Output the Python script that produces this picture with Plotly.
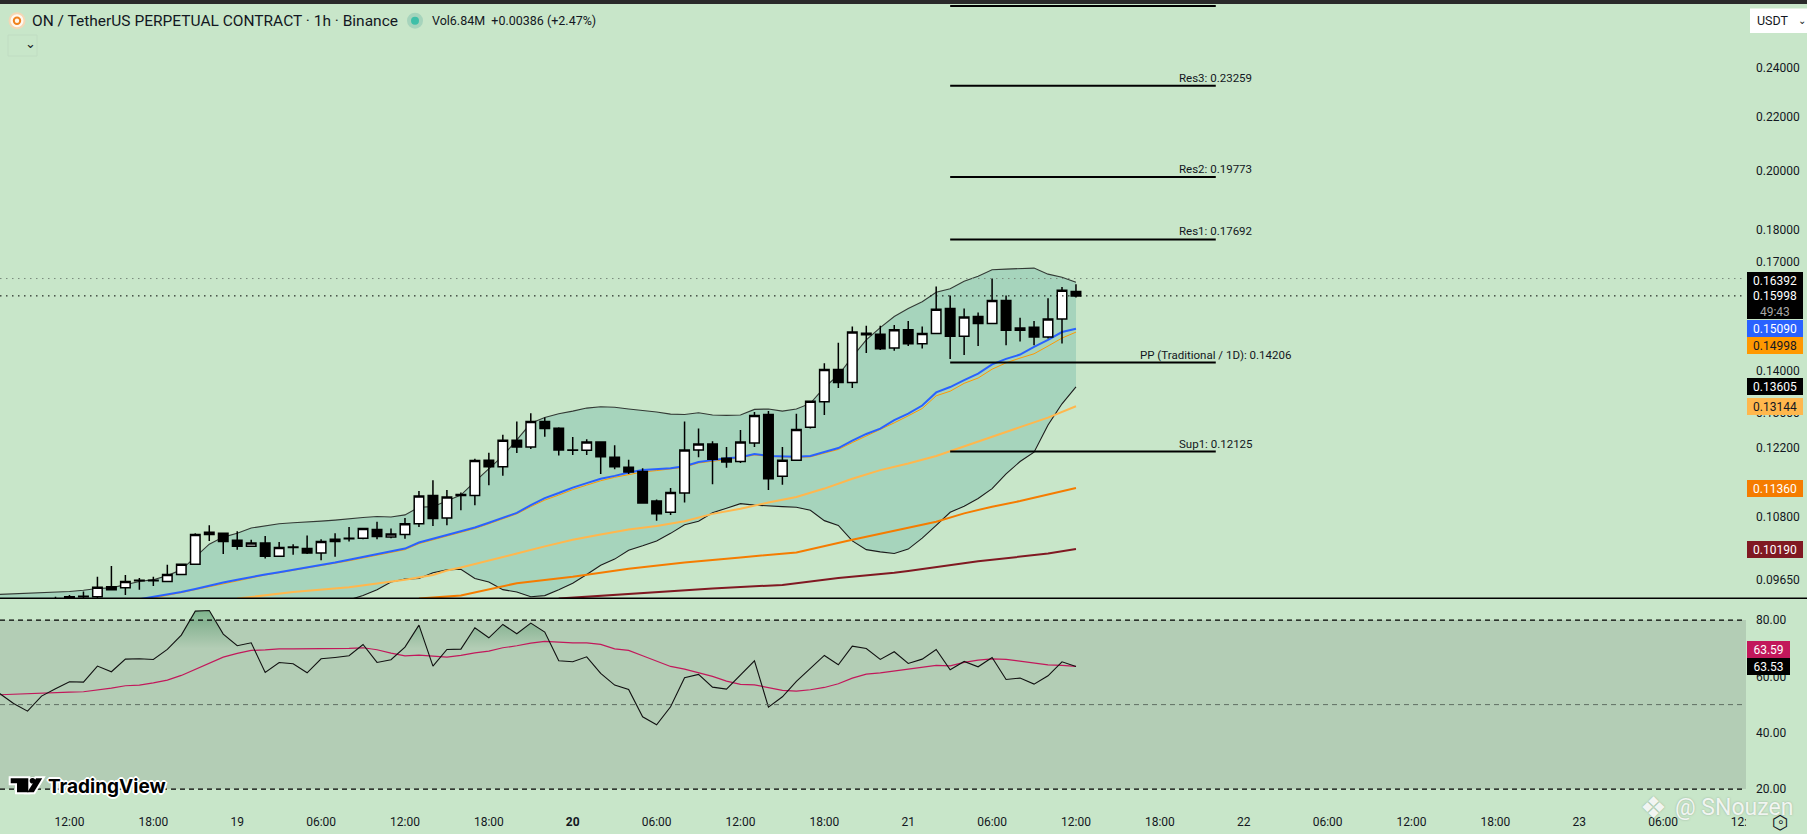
#!/usr/bin/env python3
# -*- coding: utf-8 -*-

import numpy as np
import pandas as pd
import plotly.graph_objs as go

WIDTH, HEIGHT = 1807, 834
PLOT_W, PLOT_H = 1746, 806
FONT = "Roboto"
INK = "#131722"
BG = "#c8e6c9"

# candles, one per hour, the last one is 21st 12:00
opens = [.0918, .0916, .0922, .0925, .0930, .0936, .0936, .0953, .0951, .0963, .0963, .0962, .0974, .0992, .1046, .1048,
         .1035, .1024, .1030, .1006, .1022, .1020, .1012, .1033, .1038, .1039, .1055, .1041, .1046, .1066, .1121, .1077,
         .1121, .1121, .1194, .1180, .1237, .1222, .1279, .1264, .1216, .1215, .1233, .1200, .1179, .1170, .1110, .1088,
         .1126, .1216, .1229, .1198, .1191, .1231, .1295, .1160, .1194, .1266, .1325, .1403, .1371, .1497, .1494, .1458,
         .1506, .1469, .1496, .1564, .1489, .1542, .1523, .1587, .1505, .1513, .1487, .1535, .1612]
highs = [.0921, .0924, .0928, .0936, .0939, .0945, .0970, .0989, .0973, .0968, .0970, .0991, .0992, .1048, .1063, .1048,
         .1052, .1036, .1043, .1032, .1028, .1044, .1037, .1048, .1060, .1058, .1070, .1057, .1077, .1130, .1152, .1132,
         .1127, .1197, .1210, .1249, .1279, .1298, .1288, .1266, .1244, .1239, .1235, .1226, .1195, .1177, .1113, .1136,
         .1279, .1263, .1235, .1222, .1260, .1301, .1303, .1222, .1297, .1326, .1419, .1472, .1515, .1517, .1517, .1519,
         .1530, .1515, .1627, .1601, .1564, .1553, .1650, .1601, .1539, .1530, .1593, .1625, .1633]
lows = [.0912, .0914, .0918, .0922, .0928, .0932, .0933, .0948, .0939, .0948, .0954, .0961, .0973, .0992, .1034, .1010,
        .1018, .1023, .1002, .1005, .1009, .1010, .0999, .1005, .1033, .1037, .1037, .1039, .1038, .1060, .1062, .1063,
        .1092, .1102, .1142, .1161, .1209, .1218, .1245, .1204, .1205, .1205, .1165, .1175, .1165, .1106, .1072, .1083,
        .1107, .1200, .1144, .1178, .1188, .1222, .1132, .1143, .1194, .1263, .1294, .1358, .1358, .1445, .1453, .1451,
        .1463, .1457, .1496, .1430, .1440, .1463, .1523, .1465, .1475, .1465, .1483, .1470, .1595]
closes = [.0916, .0922, .0925, .0930, .0936, .0937, .0952, .0948, .0962, .0964, .0964, .0974, .0992, .1046, .1050, .1033,
          .1024, .1030, .1006, .1022, .1023, .1012, .1033, .1037, .1039, .1057, .1042, .1047, .1066, .1120, .1076, .1118,
          .1123, .1193, .1180, .1237, .1222, .1279, .1263, .1216, .1215, .1233, .1201, .1180, .1169, .1106, .1085, .1127,
          .1216, .1229, .1196, .1190, .1233, .1293, .1155, .1194, .1261, .1326, .1403, .1371, .1500, .1493, .1456, .1506,
          .1469, .1496, .1562, .1489, .1541, .1523, .1587, .1505, .1511, .1487, .1535, .1616, .15998]

# bollinger bands, 78 hourly values
bb_upper = [.0940, .0941, .0941, .0942, .0943, .0945, .0947, .0950, .0951, .0956, .0962, .0965, .0972, .0982, .1005, .1028,
            .1041, .1048, .1058, .1062, .1066, .1068, .1069, .1071, .1073, .1076, .1078, .1080, .1079, .1083, .1098, .1099,
            .1110, .1122, .1149, .1175, .1203, .1238, .1275, .1288, .1297, .1303, .1310, .1313, .1312, .1308, .1305, .1301,
            .1296, .1295, .1299, .1294, .1293, .1294, .1307, .1308, .1303, .1308, .1321, .1359, .1389, .1435, .1479, .1512,
            .1542, .1564, .1583, .1610, .1620, .1642, .1657, .1676, .1678, .1680, .1681, .1663, .1654, .16392]
bb_lower = [.0900, .0901, .0902, .0903, .0904, .0905, .0905, .0906, .0907, .0908, .0909, .0910, .0911, .0912, .0913, .0914,
            .0915, .0917, .0918, .0919, .0920, .0922, .0924, .0926, .0928, .0931, .0938, .0948, .0961, .0966, .0967, .0977,
            .0982, .0983, .0967, .0961, .0948, .0944, .0936, .0938, .0948, .0959, .0974, .0990, .1001, .1017, .1025, .1034,
            .1048, .1064, .1071, .1087, .1096, .1105, .1102, .1100, .1099, .1098, .1092, .1072, .1063, .1034, .1018, .1014,
            .1011, .1019, .1039, .1063, .1088, .1100, .1115, .1135, .1165, .1191, .1211, .1271, .1320, .13605]

# moving averages, hourly up to the last bar (older ones are under the pane)
ma_blue = [.0932, .0936, .0939, .0944, .0949, .0955, .0960, .0965, .0970, .0974, .0978, .0982, .0986, .0991, .0995, .1000,
           .1005, .1010, .1014, .1020, .1031, .1038, .1045, .1053, .1059, .1068, .1077, .1087, .1102, .1116, .1126, .1137,
           .1146, .1155, .1161, .1168, .1173, .1175, .1177, .1181, .1190, .1194, .1198, .1200, .1207, .1203, .1202, .1201,
           .1203, .1212, .1220, .1236, .1251, .1263, .1282, .1297, .1316, .1347, .1360, .1377, .1393, .1416, .1430, .1441,
           .1461, .1479, .1500, .15090]
ma_orange = [.0934, .0938, .0943, .0948, .0953, .0958, .0963, .0968, .0973, .0977, .0981, .0985, .0989, .0994, .0998, .1003,
             .1008, .1013, .1018, .1029, .1036, .1043, .1051, .1057, .1066, .1075, .1085, .1099, .1112, .1122, .1133, .1142,
             .1151, .1158, .1164, .1169, .1172, .1175, .1179, .1188, .1192, .1196, .1199, .1205, .1202, .1201, .1200, .1201,
             .1209, .1217, .1232, .1246, .1260, .1276, .1292, .1309, .1339, .1350, .1369, .1382, .1404, .1420, .1432, .1443,
             .1463, .1484, .14998]

# slow averages, read every few hours: hours before the last bar, then price
ma_light_hours = [60, 56, 52, 48, 46, 45, 44, 42, 40, 38, 36, 34, 32, 30, 28, 26, 24, 22, 20, 18, 16, 14, 12, 10, 8, 6, 4, 2, 0]
ma_light = [.0933, .0944, .0952, .0965, .0973, .0981, .0986, .0999, .1011, .1024, .1036, .1046, .1055, .1062, .1071, .1085,
            .1095, .1107, .1118, .1135, .1155, .1173, .1187, .1203, .1224, .1245, .1267, .1288, .13144]
ma_dark_hours = [47, 44, 40, 36, 32, 28, 24, 20, 16, 14, 13, 12, 10, 8, 6, 4, 2, 0]
ma_dark = [.0933, .0938, .0959, .0970, .0984, .0995, .1004, .1013, .1036, .1047, .1053, .1059, .1070, .1086, .1099, .1110,
           .1123, .11360]
ma_red_hours = [37, 31, 26, 21, 17, 13, 12, 7, 2, 0]
ma_red = [.0933, .0942, .0950, .0956, .0968, .0977, .0980, .0997, .1011, .10190]

# pivots
pivot_names = ["Res3", "Res2", "Res1", "PP (Traditional / 1D)", "Sup1"]
pivot_levels = [.23259, .19773, .17692, .14206, .12125]
pivot_top = .2681
pivot_from, pivot_to = 9, -10
high_line = .1650

# rsi, 78 hourly values
rsi = [53.96, 50.41, 47.69, 53.02, 55.62, 58.11, 57.99, 63.67, 61.66, 66.15, 66.27, 66.04, 69.59, 74.67, 83.20, 83.43,
       75.03, 70.89, 71.95, 61.42, 64.97, 64.50, 61.30, 66.27, 66.75, 67.34, 71.36, 64.97, 65.92, 70.41, 78.22, 63.67,
       69.59, 69.70, 77.28, 73.73, 78.46, 75.15, 78.93, 75.74, 65.56, 65.21, 66.98, 61.07, 56.92, 55.38, 45.68, 42.84,
       49.23, 59.53, 60.71, 56.21, 55.50, 60.47, 65.56, 49.11, 52.78, 58.22, 62.84, 67.46, 64.14, 70.77, 69.94, 66.04,
       68.76, 64.62, 66.15, 69.59, 62.37, 65.33, 63.43, 66.75, 58.93, 59.41, 57.28, 60.24, 65.21, 63.53]
rsi_ma = [53.49, 53.73, 53.96, 54.20, 54.32, 54.44, 54.56, 55.15, 55.86, 56.69, 56.92, 57.75, 58.70, 60.36, 62.49, 64.85,
          66.86, 68.17, 69.23, 69.47, 69.82, 69.82, 69.82, 69.82, 69.82, 69.94, 70.18, 69.47, 68.28, 67.34, 67.57, 67.10,
          66.86, 67.46, 68.40, 68.99, 70.18, 70.89, 71.83, 72.43, 72.07, 71.95, 71.95, 71.36, 69.82, 69.23, 67.34, 65.44,
          63.55, 62.60, 61.42, 60.00, 58.34, 57.16, 57.04, 55.98, 55.03, 54.79, 55.27, 56.09, 57.40, 59.41, 60.83, 61.30,
          61.89, 62.60, 63.31, 63.91, 63.79, 64.97, 65.80, 66.27, 66.04, 65.44, 64.97, 64.14, 63.91, 63.59]

# axes
price_ticks = [.24, .22, .20, .18, .17, .16, .15, .14, .13, .122, .108, .0965]
rsi_ticks = [80, 60, 40, 20]
time_labels = ["12:00", "18:00", "19", "06:00", "12:00", "18:00", "<b>20</b>", "06:00", "12:00", "18:00", "21", "06:00",
               "12:00", "18:00", "22", "06:00", "12:00", "18:00", "23", "06:00", "12:00"]

last_bar = pd.Timestamp("2025-06-21 12:00")
hour = pd.Timedelta(hours=1)
x_left = last_bar - 76.97 * hour
x_right = last_bar + 47.93 * hour
price_range = [np.log10(.0934), np.log10(.2710)]
rsi_range = [14.0, 87.5]


def hours_ago(hours):
    return [last_bar - h * hour for h in hours]


def last_n(n):
    return hours_ago(range(n - 1, -1, -1))


def px(x):
    return x / PLOT_W


def py(y):
    return (PLOT_H - y) / PLOT_H


def rect(x0, y0, x1, y1, fill, line=None):
    return dict(type="rect", xref="paper", yref="paper", x0=px(x0), x1=px(x1), y0=py(y0), y1=py(y1),
                fillcolor=fill, line=dict(color=line or fill, width=1 if line else 0), layer="above")


def circle(cx, cy, r, fill, line=None, lw=0):
    return dict(type="circle", xref="paper", yref="paper", x0=px(cx - r), x1=px(cx + r), y0=py(cy - r), y1=py(cy + r),
                fillcolor=fill, line=dict(color=line or fill, width=lw), layer="above")


def poly(points, fill, line=None, lw=0):
    path = "M " + " L ".join(f"{px(a):.5f} {py(b):.5f}" for a, b in points) + " Z"
    return dict(type="path", xref="paper", yref="paper", path=path, fillcolor=fill,
                line=dict(color=line or fill, width=lw), layer="above")


def text(x, y, s, size, color=INK, anchor="left", family=FONT, **kw):
    return dict(xref="paper", yref="paper", x=px(x), y=py(y), text=s, showarrow=False, xanchor=anchor, yanchor="middle",
                font=dict(family=family, size=size, color=color, **kw.pop("font", {})), **kw)


def badge(value, label, fill, color="#ffffff", w=56, h=17, shift=0, yref="y", log=True):
    return dict(xref="paper", yref=yref, x=px(1747), y=np.log10(value) if log else value, text=label, showarrow=False,
                xanchor="left", yanchor="middle", yshift=shift, width=w, height=h, bgcolor=fill, borderpad=0,
                borderwidth=0, align="center", font=dict(family=FONT, size=12, color=color))


def rsi_overbought(values, level=70):
    # upper edge of the overbought shading, with the crossings of the level added
    xs, ys = [], []
    times = last_n(len(values))
    for i, v in enumerate(values):
        if i > 0 and (values[i - 1] - level) * (v - level) < 0:
            f = (level - values[i - 1]) / (v - values[i - 1])
            xs.append(times[i - 1] + f * hour)
            ys.append(level)
        xs.append(times[i])
        ys.append(max(v, level))
    return xs, ys


fig = go.Figure()

# band first so that everything else sits on it
fig.add_trace(go.Scatter(x=last_n(len(bb_lower)), y=bb_lower, mode="lines", xaxis="x2", yaxis="y",
                         line=dict(color="#1c1c1c", width=1.1)))
fig.add_trace(go.Scatter(x=last_n(len(bb_upper)), y=bb_upper, mode="lines", xaxis="x2", yaxis="y", fill="tonexty",
                         fillcolor="#a6d4bc", line=dict(color="#333a35", width=1.1)))
fig.add_trace(go.Scatter(x=hours_ago(ma_red_hours), y=ma_red, mode="lines", xaxis="x2", yaxis="y",
                         line=dict(color="#801922", width=2)))
fig.add_trace(go.Scatter(x=hours_ago(ma_dark_hours), y=ma_dark, mode="lines", xaxis="x2", yaxis="y",
                         line=dict(color="#f57c00", width=2)))
fig.add_trace(go.Scatter(x=hours_ago(ma_light_hours), y=ma_light, mode="lines", xaxis="x2", yaxis="y",
                         line=dict(color="#ffb74d", width=2)))
fig.add_trace(go.Scatter(x=last_n(len(ma_orange)), y=ma_orange, mode="lines", xaxis="x2", yaxis="y",
                         line=dict(color="#ff9800", width=1)))
fig.add_trace(go.Scatter(x=last_n(len(ma_blue)), y=ma_blue, mode="lines", xaxis="x2", yaxis="y",
                         line=dict(color="#2962ff", width=2)))

# candles on an overlaying axis, box traces would otherwise end up under the scatter fill
fig.add_trace(go.Candlestick(x=last_n(len(opens)), open=opens, high=highs, low=lows, close=closes, xaxis="x2", yaxis="y3",
                             increasing=dict(line=dict(color="#000000", width=1.5), fillcolor="#ffffff"),
                             decreasing=dict(line=dict(color="#000000", width=1.5), fillcolor="#000000"),
                             whiskerwidth=0))

for level in pivot_levels + [pivot_top]:
    fig.add_trace(go.Scatter(x=hours_ago([pivot_from, pivot_to]), y=[level, level], mode="lines", xaxis="x2", yaxis="y3",
                             line=dict(color="#000000", width=2)))

fig.add_trace(go.Scatter(x=[x_left, x_right], y=[closes[-1], closes[-1]], mode="lines", xaxis="x2", yaxis="y3",
                         line=dict(color="#000000", width=1, dash="1.5px,4.5px")))
fig.add_trace(go.Scatter(x=[x_left, x_right], y=[high_line, high_line], mode="lines", xaxis="x2", yaxis="y3",
                         line=dict(color="#78897b", width=1, dash="1.5px,4.5px")))

# rsi pane
over_x, over_y = rsi_overbought(rsi)
fig.add_trace(go.Scatter(x=over_x, y=[70] * len(over_x), mode="lines", xaxis="x", yaxis="y2", line=dict(width=0)))
fig.add_trace(go.Scatter(x=over_x, y=over_y, mode="lines", xaxis="x", yaxis="y2", line=dict(width=0), fill="tonexty",
                         fillgradient=dict(type="vertical", start=70, stop=84,
                                           colorscale=[[0, "rgba(70,140,95,0)"], [1, "rgba(70,140,95,0.6)"]])))
fig.add_trace(go.Scatter(x=last_n(len(rsi_ma)), y=rsi_ma, mode="lines", xaxis="x", yaxis="y2",
                         line=dict(color="#c2185b", width=1.2)))
fig.add_trace(go.Scatter(x=last_n(len(rsi)), y=rsi, mode="lines", xaxis="x", yaxis="y2",
                         line=dict(color="#111111", width=1.1)))

logo_t = [(10.7, 778.3), (28.3, 778.3), (28.3, 792.3), (17, 792.3), (17, 783.3), (10.7, 783.3)]
logo_slash = [(36, 778.3), (42.2, 778.3), (33.8, 792.3), (27.3, 792.3)]

shapes = [
    dict(type="rect", xref="paper", yref="y2", x0=0, x1=1, y0=20, y1=80, fillcolor="#b3cdb5", line=dict(width=0), layer="below"),
    dict(type="line", xref="paper", yref="y2", x0=0, x1=1, y0=80, y1=80, line=dict(color="#000000", width=1.2, dash="5px,4px")),
    dict(type="line", xref="paper", yref="y2", x0=0, x1=1, y0=50, y1=50, line=dict(color="#5f6f62", width=1, dash="5px,4px")),
    dict(type="line", xref="paper", yref="y2", x0=0, x1=1, y0=20, y1=20, line=dict(color="#000000", width=1.2, dash="5px,4px")),
    # window bar, pane separator, time axis corner
    rect(0, 0, WIDTH, 4, "#2a2a2a"),
    dict(type="line", xref="paper", yref="paper", x0=0, x1=px(WIDTH), y0=py(598.3), y1=py(598.3),
         line=dict(color="#000000", width=1.5), layer="above"),
    rect(PLOT_W, 806, WIDTH, HEIGHT, BG),
    # legend icons
    circle(17, 20.7, 8.5, "#f5d7b5"),
    circle(17, 20.7, 6.5, "#fff8f0"),
    circle(17, 20.7, 3.2, "#fff8f0", "#f0821e", 2),
    circle(415, 20.7, 8, "#a6d4bc"),
    circle(415, 20.7, 4, "#3fbfa8"),
    rect(8, 35, 37, 56, "rgba(0,0,0,0)", "#c0dcc2"),
    # USDT button
    rect(1750, 8.5, WIDTH, 33, "#ffffff"),
    # TradingView mark, white edge first
    poly(logo_t, "#ffffff", "#ffffff", 4),
    poly(logo_slash, "#ffffff", "#ffffff", 4),
    circle(32.5, 780.7, 3.8, "#ffffff"),
    poly(logo_t, "#000000"),
    poly(logo_slash, "#000000"),
    circle(32.5, 780.7, 2.8, "#000000"),
]

halo = "1px 1px 0 #fff, -1px -1px 0 #fff, 1px -1px 0 #fff, -1px 1px 0 #fff, 2px 0 0 #fff, -2px 0 0 #fff, 0 2px 0 #fff, 0 -2px 0 #fff"
annotations = [
    text(30, 20.7, "ON / TetherUS PERPETUAL CONTRACT · 1h · Binance", 15.5),
    text(430, 20.7, "Vol6.84M  +0.00386 (+2.47%)", 12.5),
    text(22.5, 44, "⌄", 13, family="DejaVu Sans"),
    text(1755, 20, "USDT", 12.5),
    text(1802, 20, "⌄", 10, anchor="center", family="DejaVu Sans"),
    text(46, 786.5, "<b>TradingView</b>", 19, color="#000000", family="Inter", font=dict(shadow=halo)),
    text(1653, 808, "❖", 30, color="rgba(255,255,255,0.9)", anchor="center", family="DejaVu Sans",
         font=dict(shadow="0 0 2px #8fa592")),
    text(1673, 808, "@ SNouzen", 23, color="rgba(255,255,255,0.85)", font=dict(shadow="0 0 2px #8fa592")),
    text(1781, 822, "⬡", 19, anchor="center", family="DejaVu Sans"),
    text(1781, 822, "∘", 12, anchor="center", family="DejaVu Sans"),
]

for name, level in zip(pivot_names, pivot_levels):
    annotations.append(dict(xref="x2", yref="y", x=last_bar - pivot_to * hour, y=np.log10(level),
                            text=f"{name}: {level:.5f}", showarrow=False, xanchor="center", yanchor="middle", yshift=8,
                            font=dict(family=FONT, size=11.5, color=INK)))

annotations += [
    badge(bb_upper[-1], "0.16392", "#000000", shift=2),
    badge(closes[-1], "0.15998<br><span style='font-size:12px;color:#a8a8a8'>49:43</span>", "#000000", h=30, shift=-8),
    badge(ma_blue[-1], "0.15090", "#2962ff"),
    badge(ma_orange[-1], "0.14998", "#ff9800", color=INK, shift=-13.5),
    badge(bb_lower[-1], "0.13605", "#000000"),
    badge(ma_light[-1], "0.13144", "#ffb74d", color=INK),
    badge(ma_dark[-1], "0.11360", "#f57c00"),
    badge(ma_red[-1], "0.10190", "#801922"),
    badge(rsi_ma[-1], "63.59", "#c2185b", w=43, shift=16.5, yref="y2", log=False),
    badge(rsi[-1], "63.53", "#000000", w=43, yref="y2", log=False),
]

# the last label sits on the pane edge, keep its tick just inside the range
time_ticks = hours_ago(list(range(72, -48, -6)) + [-47.9])

fig.update_layout(
    width=WIDTH, height=HEIGHT, showlegend=False, paper_bgcolor=BG, plot_bgcolor=BG,
    margin=dict(l=0, r=WIDTH - PLOT_W, t=0, b=HEIGHT - PLOT_H, pad=0),
    font=dict(family=FONT, size=12, color=INK),
    shapes=shapes, annotations=annotations, boxgap=0.32, boxgroupgap=0,
    xaxis=dict(domain=[0, 1], anchor="y2", range=[x_left, x_right], type="date", tickmode="array", tickvals=time_ticks,
               ticktext=time_labels, showgrid=False, zeroline=False, ticks="", showline=False, ticklabelstandoff=7,
               tickangle=0, rangeslider=dict(visible=False)),
    xaxis2=dict(domain=[0, 1], anchor="y", matches="x", showticklabels=False, showgrid=False, zeroline=False, ticks="",
                showline=False, rangeslider=dict(visible=False)),
    yaxis=dict(domain=[(PLOT_H - 598) / PLOT_H, 1], anchor="x2", side="right", type="log", range=price_range,
               tickmode="array", tickvals=price_ticks, ticktext=[f"{t:.5f}" for t in price_ticks], showgrid=False,
               zeroline=False, ticks="", showline=False, ticklabelstandoff=9),
    yaxis2=dict(domain=[0, (PLOT_H - 599) / PLOT_H], anchor="x", side="right", range=rsi_range, tickmode="array",
                tickvals=rsi_ticks, ticktext=[f"{t:.2f}" for t in rsi_ticks], showgrid=False, zeroline=False, ticks="",
                showline=False, ticklabelstandoff=9),
    yaxis3=dict(domain=[(PLOT_H - 598) / PLOT_H, 1], anchor="x2", overlaying="y", side="right", type="log", range=price_range,
                visible=False),
)

fig.write_html("out.html", config=dict(displayModeBar=False), post_script="document.body.style.margin='0';")
